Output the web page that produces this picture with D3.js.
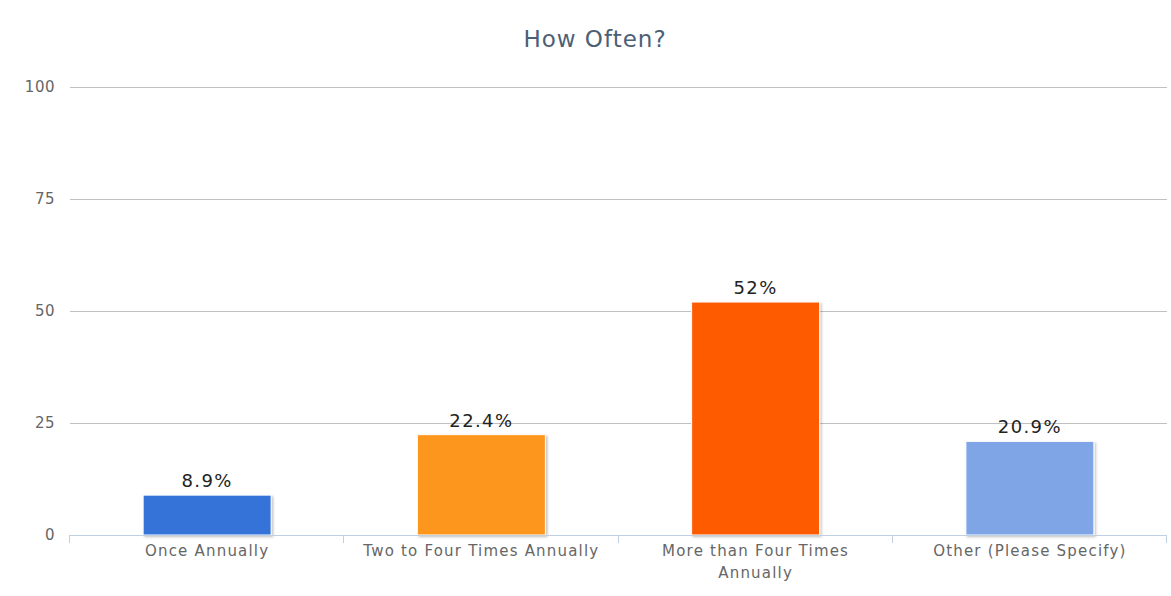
<!DOCTYPE html>
<html>
<head>
<meta charset="utf-8">
<script src="https://cdn.jsdelivr.net/npm/d3@7"></script>
<style>
  body { margin: 0; background: #fff; }
  text { font-family: "DejaVu Sans", sans-serif; }
</style>
</head>
<body>
<svg id="chart"></svg>
<script>
// chart data
const categories = ["Once Annually", "Two to Four Times Annually", "More than Four Times Annually", "Other (Please Specify)"];
const values = [8.9, 22.4, 52, 20.9];
const labels = ["8.9%", "22.4%", "52%", "20.9%"];
const barColors = ["#3673d9", "#fd961f", "#fe5a05", "#7fa5e7"];
const yTicks = [0, 25, 50, 75, 100];

drawChart();

function drawChart() {
    const width = 1171;
    const height = 596;
    const left = 70, right = 1167, top = 87, bottom = 535;

    let svg = d3.select('#chart')
        .attr('width', width)
        .attr('height', height);

    let defs = svg.append('defs');
    let f = defs.append('filter').attr('id', 'shadow')
        .attr('x', '-10%').attr('y', '-10%').attr('width', '130%').attr('height', '130%');
    f.append('feDropShadow')
        .attr('dx', 1.5).attr('dy', 1.5).attr('stdDeviation', 1)
        .attr('flood-color', '#000').attr('flood-opacity', 0.25);

    let x = d3.scaleBand()
        .domain(categories)
        .range([left, right]);

    let y = d3.scaleLinear()
        .domain([0, 100])
        .range([bottom, top]);

    // title
    svg.append('text')
        .attr('x', 595)
        .attr('y', 47)
        .attr('text-anchor', 'middle')
        .attr('fill', '#4d5f75')
        .style('font-size', '23px')
        .style('letter-spacing', '1px')
        .text('How Often?');

    // grid lines
    svg.append('g').selectAll('line')
        .data(yTicks.filter(d => d > 0))
        .join('line')
        .attr('x1', left)
        .attr('x2', right)
        .attr('y1', d => Math.round(y(d)) + 0.5)
        .attr('y2', d => Math.round(y(d)) + 0.5)
        .attr('stroke', '#c0c0c0')
        .attr('stroke-width', 1);

    // y labels
    svg.append('g').selectAll('text')
        .data(yTicks)
        .join('text')
        .attr('x', 55)
        .attr('y', d => y(d) + 5)
        .attr('text-anchor', 'end')
        .attr('fill', '#666')
        .style('font-size', '15px')
        .style('letter-spacing', '0.5px')
        .text(d => d);

    // bars
    svg.append('g').selectAll('rect')
        .data(values)
        .join('rect')
        .attr('x', (d, i) => x(categories[i]) + x.bandwidth() / 2 - 64)
        .attr('y', d => y(d))
        .attr('width', 128)
        .attr('height', d => y(0) - y(d))
        .attr('fill', (d, i) => barColors[i])
        .attr('stroke', '#fff')
        .attr('stroke-width', 1)
        .attr('filter', 'url(#shadow)');

    // x axis line + ticks
    svg.append('line')
        .attr('x1', left).attr('x2', right)
        .attr('y1', bottom + 0.5).attr('y2', bottom + 0.5)
        .attr('stroke', '#c0d0e0');

    let tickPos = categories.map(c => x(c)).concat([right]);
    svg.append('g').selectAll('line')
        .data(tickPos)
        .join('line')
        .attr('x1', d => Math.round(d) - 0.5)
        .attr('x2', d => Math.round(d) - 0.5)
        .attr('y1', bottom)
        .attr('y2', bottom + 8)
        .attr('stroke', '#c0d0e0');

    // x labels (wrap long ones)
    let xl = svg.append('g').selectAll('text')
        .data(categories)
        .join('text')
        .attr('x', d => x(d) + x.bandwidth() / 2)
        .attr('y', 556)
        .attr('text-anchor', 'middle')
        .attr('fill', '#666')
        .style('font-size', '15px')
        .style('letter-spacing', '1.2px');

    xl.each(function (d) {
        let t = d3.select(this);
        let lines = d === "More than Four Times Annually" ? ["More than Four Times", "Annually"] : [d];
        lines.forEach((l, i) => {
            t.append('tspan')
                .attr('x', x(d) + x.bandwidth() / 2)
                .attr('dy', i === 0 ? 0 : 22)
                .text(l);
        });
    });

    // data labels
    svg.append('g').selectAll('text')
        .data(values)
        .join('text')
        .attr('x', (d, i) => x(categories[i]) + x.bandwidth() / 2)
        .attr('y', d => y(d) - 8)
        .attr('text-anchor', 'middle')
        .attr('fill', '#222')
        .style('font-size', '18px')
        .style('letter-spacing', '1.4px')
        .text((d, i) => labels[i]);
}
</script>
</body>
</html>
